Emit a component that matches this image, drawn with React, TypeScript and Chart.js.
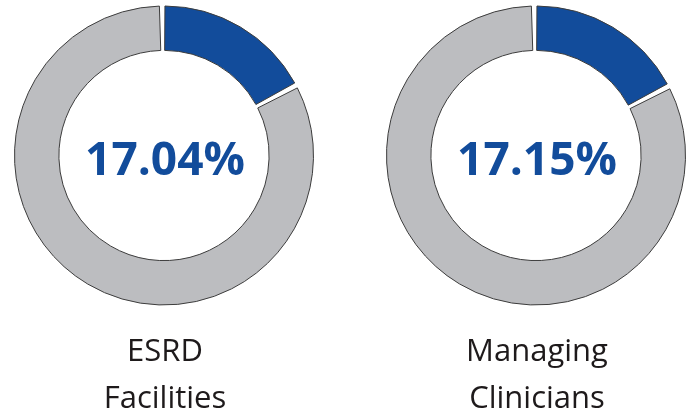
import React, { useEffect, useRef } from "react";
import { Chart, registerables } from "chart.js";

Chart.register(...registerables);

const categories: string[][] = [["ESRD", "Facilities"], ["Managing", "Clinicians"]];
const shareValues: number[] = [17.04, 17.15];
const centerLabels: string[] = ["17.04%", "17.15%"];
const sliceNames: string[] = ["Share", "Remainder"];

const BLUE = "#124C9B";
const GRAY = "#BCBDC0";
const OUTLINE = "#3c3c3c";

const W = 330;
const H = 413;

function Donut({ idx, cx }: { idx: number; cx: number }) {
  const ref = useRef<HTMLCanvasElement | null>(null);
  useEffect(() => {
    if (!ref.current) return;
    const cy = 155.5;
    const D = 300;
    const centerPlugin = {
      id: "centerText" + idx,
      afterDraw(chart: any) {
        const ctx = chart.ctx;
        const meta = chart.getDatasetMeta(0);
        const arc = meta.data[0];
        const x = arc.x;
        const y = arc.y;
        ctx.save();
        ctx.textAlign = "center";
        ctx.textBaseline = "alphabetic";
        ctx.fillStyle = BLUE;
        ctx.font = "bold 46px 'Open Sans'";
        ctx.fillText(centerLabels[idx], x + 1, y + 19.5);
        ctx.fillStyle = "#1E1A1B";
        ctx.font = "31px 'Open Sans'";
        const lines = categories[idx];
        ctx.fillText(lines[0], x + 1, 361);
        ctx.fillText(lines[1], x + 1, 407.5);
        ctx.restore();
      },
    };
    const chart = new Chart(ref.current, {
      type: "doughnut",
      data: {
        labels: sliceNames,
        datasets: [
          {
            data: [shareValues[idx], 100 - shareValues[idx]],
            backgroundColor: [BLUE, GRAY],
            borderColor: OUTLINE,
            borderWidth: 1,
            spacing: 3,
          },
        ],
      },
      options: {
        responsive: false,
        animation: false,
        cutout: "70%",
        layout: {
          padding: {
            left: W / 2 - D / 2,
            right: W / 2 - D / 2,
            top: cy - D / 2,
            bottom: H - cy - D / 2,
          },
        },
        plugins: {
          legend: { display: false },
          tooltip: { enabled: false },
          title: { display: false },
        },
      },
      plugins: [centerPlugin],
    });
    return () => chart.destroy();
  }, [idx]);
  return (
    <div style={{ position: "absolute", left: cx - W / 2, top: 0, width: W, height: H }}>
      <canvas ref={ref} width={W} height={H} style={{ width: W, height: H, display: "block" }} />
    </div>
  );
}

export default function App() {
  return (
    <div
      style={{
        position: "fixed",
        left: 0,
        top: 0,
        width: 691,
        height: 413,
        overflow: "hidden",
        background: "#ffffff",
      }}
    >
      <Donut idx={0} cx={163.5} />
      <Donut idx={1} cx={536} />
    </div>
  );
}
